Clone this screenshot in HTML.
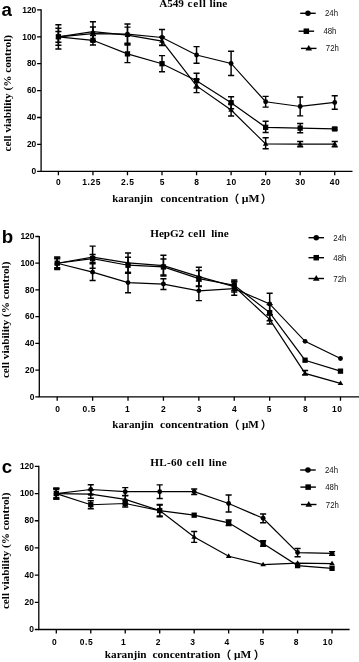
<!DOCTYPE html>
<html><head><meta charset="utf-8"><title>Cell viability</title>
<style>
html,body{margin:0;padding:0;background:#fff}
svg{display:block;will-change:transform}
.tk{font:bold 9.2px "Liberation Sans",Arial,sans-serif;fill:#000}
.tt{font:bold 11.2px "Liberation Serif","Times New Roman",serif;fill:#000}
.xt{font:bold 10.6px "Liberation Serif","Times New Roman",serif;fill:#000}
.pr{font:bold 11px "Liberation Sans","Noto Sans CJK SC",sans-serif;fill:#000}
.yt{font:bold 10.0px "Liberation Serif","Times New Roman",serif;fill:#000}
.lg{font:9px "Liberation Sans",Arial,sans-serif;fill:#111}
.pl{font:bold 18.7px "Liberation Sans",Arial,sans-serif;fill:#000}
.ax{stroke:#000;stroke-width:1.3;fill:none}
.ln{stroke:#000;stroke-width:1.2;fill:none}
.eb{stroke:#000;stroke-width:1.45;fill:none}
.ll{stroke:#000;stroke-width:1.4;fill:none}
.mk{fill:#000}
</style></head><body>
<svg width="359" height="662" viewBox="0 0 359 662">
<rect width="359" height="662" fill="#fff"/>
<g><path class="ax" d="M41.1 9.3V171.3H352.5"/>
<path class="ax" d="M37.1 171.3H41.1M37.1 144.4H41.1M37.1 117.5H41.1M37.1 90.6H41.1M37.1 63.7H41.1M37.1 36.8H41.1M37.1 9.9H41.1M58.4 171.3V175.3M92.94 171.3V175.3M127.48 171.3V175.3M162.02 171.3V175.3M196.56 171.3V175.3M231.1 171.3V175.3M265.64 171.3V175.3M300.18 171.3V175.3M334.72 171.3V175.3"/>
<text class="tk" transform="translate(36.3 174) scale(.92 1)" text-anchor="end">0</text>
<text class="tk" transform="translate(36.3 147.1) scale(.92 1)" text-anchor="end">20</text>
<text class="tk" transform="translate(36.3 120.2) scale(.92 1)" text-anchor="end">40</text>
<text class="tk" transform="translate(36.3 93.3) scale(.92 1)" text-anchor="end">60</text>
<text class="tk" transform="translate(36.3 66.4) scale(.92 1)" text-anchor="end">80</text>
<text class="tk" transform="translate(36.3 39.5) scale(.92 1)" text-anchor="end">100</text>
<text class="tk" transform="translate(36.3 12.6) scale(.92 1)" text-anchor="end">120</text>
<text class="tk" transform="translate(58.4 185.3) scale(.92 1)" text-anchor="middle">0</text>
<text class="tk" style="letter-spacing:.6px" transform="translate(91.64 185.3) scale(.92 1)" text-anchor="middle">1.25</text>
<text class="tk" style="letter-spacing:.6px" transform="translate(127.78 185.3) scale(.92 1)" text-anchor="middle">2.5</text>
<text class="tk" transform="translate(162.02 185.3) scale(.92 1)" text-anchor="middle">5</text>
<text class="tk" transform="translate(196.56 185.3) scale(.92 1)" text-anchor="middle">8</text>
<text class="tk" style="letter-spacing:.6px" transform="translate(231.4 185.3) scale(.92 1)" text-anchor="middle">10</text>
<text class="tk" style="letter-spacing:.6px" transform="translate(265.94 185.3) scale(.92 1)" text-anchor="middle">20</text>
<text class="tk" style="letter-spacing:.6px" transform="translate(300.48 185.3) scale(.92 1)" text-anchor="middle">30</text>
<text class="tk" style="letter-spacing:.6px" transform="translate(335.02 185.3) scale(.92 1)" text-anchor="middle">40</text>
<text class="tt" x="159.18" y="7.3" textLength="24.65" lengthAdjust="spacing">A549</text>
<text class="tt" x="187.58" y="7.3" textLength="18.35" lengthAdjust="spacing">cell</text>
<text class="tt" x="209.58" y="7.3" textLength="17.65" lengthAdjust="spacing">line</text>
<text class="xt" x="112.29" y="202.4" textLength="40.52" lengthAdjust="spacingAndGlyphs">karanjin</text>
<text class="xt" x="160.49" y="202.4" textLength="67.82" lengthAdjust="spacingAndGlyphs">concentration</text>
<text class="xt" x="241.89" y="202.4" textLength="17.72" lengthAdjust="spacingAndGlyphs">μM</text>
<text class="pr" x="228.34" y="203.4">（</text>
<text class="pr" x="260.75" y="203.4">）</text>
<text class="yt" transform="translate(10.9 151.5) rotate(-90)" textLength="116.5" lengthAdjust="spacingAndGlyphs">cell viability (% control)</text>
<text class="pl" x="1.6" y="16.1">a</text>
<polyline class="ln" points="58.4,36.8 92.94,33.71 127.48,34.11 162.02,37.47 196.56,54.96 231.1,63.43 265.64,101.76 300.18,106.47 334.72,102.44"/>
<path class="eb" d="M58.4 31.42V42.18M55.35 31.42h6.1M55.35 42.18h6.1M92.94 26.98V40.43M89.89 26.98h6.1M89.89 40.43h6.1M127.48 24.02V44.2M124.43 24.02h6.1M124.43 44.2h6.1M162.02 29.4V45.54M158.97 29.4h6.1M158.97 45.54h6.1M196.56 46.62V63.3M193.51 46.62h6.1M193.51 63.3h6.1M231.1 51.33V75.54M228.05 51.33h6.1M228.05 75.54h6.1M265.64 96.38V107.14M262.59 96.38h6.1M262.59 107.14h6.1M300.18 97.06V115.89M297.13 97.06h6.1M297.13 115.89h6.1M334.72 95.71V109.16M331.67 95.71h6.1M331.67 109.16h6.1"/>
<g class="mk"><circle cx="58.4" cy="36.8" r="2.45"/><circle cx="92.94" cy="33.71" r="2.45"/><circle cx="127.48" cy="34.11" r="2.45"/><circle cx="162.02" cy="37.47" r="2.45"/><circle cx="196.56" cy="54.96" r="2.45"/><circle cx="231.1" cy="63.43" r="2.45"/><circle cx="265.64" cy="101.76" r="2.45"/><circle cx="300.18" cy="106.47" r="2.45"/><circle cx="334.72" cy="102.44" r="2.45"/></g>
<polyline class="ln" points="58.4,36.8 92.94,40.3 127.48,53.88 162.02,63.7 196.56,80.65 231.1,102.71 265.64,127.32 300.18,128.13 334.72,128.93"/>
<path class="eb" d="M58.4 28.33V45.27M55.35 28.33h6.1M55.35 45.27h6.1M92.94 35.59V45M89.89 35.59h6.1M89.89 45h6.1M127.48 45.14V62.62M124.43 45.14h6.1M124.43 62.62h6.1M162.02 55.63V71.77M158.97 55.63h6.1M158.97 71.77h6.1M196.56 73.25V88.04M193.51 73.25h6.1M193.51 88.04h6.1M231.1 96.65V108.76M228.05 96.65h6.1M228.05 108.76h6.1M265.64 121.27V132.43M262.59 121.27h6.1M262.59 132.43h6.1M300.18 123.42V132.83M297.13 123.42h6.1M297.13 132.83h6.1M334.72 127.86V130.01M331.67 127.86h6.1M331.67 130.01h6.1"/>
<g class="mk"><rect x="55.75" y="34.15" width="5.3" height="5.3"/><rect x="90.29" y="37.65" width="5.3" height="5.3"/><rect x="124.83" y="51.23" width="5.3" height="5.3"/><rect x="159.37" y="61.05" width="5.3" height="5.3"/><rect x="193.91" y="78" width="5.3" height="5.3"/><rect x="228.45" y="100.06" width="5.3" height="5.3"/><rect x="262.99" y="124.67" width="5.3" height="5.3"/><rect x="297.53" y="125.48" width="5.3" height="5.3"/><rect x="332.07" y="126.28" width="5.3" height="5.3"/></g>
<polyline class="ln" points="58.4,36.8 92.94,31.55 127.48,35.19 162.02,41.1 196.56,85.89 231.1,109.97 265.64,144 300.18,144.13 334.72,144.13"/>
<path class="eb" d="M58.4 24.7V48.91M55.35 24.7h6.1M55.35 48.91h6.1M92.94 21.74V41.37M89.89 21.74h6.1M89.89 41.37h6.1M127.48 27.12V43.26M124.43 27.12h6.1M124.43 43.26h6.1M162.02 37.07V45.14M158.97 37.07h6.1M158.97 45.14h6.1M196.56 79.17V92.62M193.51 79.17h6.1M193.51 92.62h6.1M231.1 103.92V116.02M228.05 103.92h6.1M228.05 116.02h6.1M265.64 137.81V148.7M262.59 137.81h6.1M262.59 148.7h6.1M300.18 141.44V146.82M297.13 141.44h6.1M297.13 146.82h6.1M334.72 141.44V146.82M331.67 141.44h6.1M331.67 146.82h6.1"/>
<g class="mk"><path d="M58.4 33.9L61.2 38.5L55.6 38.5Z"/><path d="M92.94 28.65L95.74 33.25L90.14 33.25Z"/><path d="M127.48 32.29L130.28 36.89L124.68 36.89Z"/><path d="M162.02 38.2L164.82 42.8L159.22 42.8Z"/><path d="M196.56 82.99L199.36 87.59L193.76 87.59Z"/><path d="M231.1 107.07L233.9 111.67L228.3 111.67Z"/><path d="M265.64 141.1L268.44 145.7L262.84 145.7Z"/><path d="M300.18 141.23L302.98 145.83L297.38 145.83Z"/><path d="M334.72 141.23L337.52 145.83L331.92 145.83Z"/></g>
<path class="ll" d="M300.2 13.3h15.5"/>
<g class="mk"><circle cx="307.95" cy="13.3" r="2.75"/></g>
<text class="lg" transform="translate(325 16.3) scale(.87 1)">24h</text>
<path class="ll" d="M298.6 31.2h15.5"/>
<g class="mk"><rect x="303.6" y="28.45" width="5.5" height="5.5"/></g>
<text class="lg" transform="translate(323.4 34.2) scale(.87 1)">48h</text>
<path class="ll" d="M301 48.4h15.5"/>
<g class="mk"><path d="M308.75 45L312.05 50.6L305.45 50.6Z"/></g>
<text class="lg" transform="translate(325.8 51.4) scale(.87 1)">72h</text></g>
<g><path class="ax" d="M39.3 235.9V396.8H359"/>
<path class="ax" d="M35.3 396.8H39.3M35.3 370.08H39.3M35.3 343.37H39.3M35.3 316.65H39.3M35.3 289.93H39.3M35.3 263.22H39.3M35.3 236.5H39.3M57.2 396.8V400.8M92.61 396.8V400.8M128.02 396.8V400.8M163.43 396.8V400.8M198.84 396.8V400.8M234.25 396.8V400.8M269.66 396.8V400.8M305.07 396.8V400.8M340.48 396.8V400.8"/>
<text class="tk" transform="translate(34.5 399.5) scale(.92 1)" text-anchor="end">0</text>
<text class="tk" transform="translate(34.5 372.78) scale(.92 1)" text-anchor="end">20</text>
<text class="tk" transform="translate(34.5 346.07) scale(.92 1)" text-anchor="end">40</text>
<text class="tk" transform="translate(34.5 319.35) scale(.92 1)" text-anchor="end">60</text>
<text class="tk" transform="translate(34.5 292.63) scale(.92 1)" text-anchor="end">80</text>
<text class="tk" transform="translate(34.5 265.92) scale(.92 1)" text-anchor="end">100</text>
<text class="tk" transform="translate(34.5 239.2) scale(.92 1)" text-anchor="end">120</text>
<text class="tk" transform="translate(57.5 411.6) scale(.92 1)" text-anchor="middle">0</text>
<text class="tk" style="letter-spacing:.6px" transform="translate(89.31 411.6) scale(.92 1)" text-anchor="middle">0.5</text>
<text class="tk" transform="translate(127.42 411.6) scale(.92 1)" text-anchor="middle">1</text>
<text class="tk" transform="translate(163.43 411.6) scale(.92 1)" text-anchor="middle">2</text>
<text class="tk" transform="translate(199.04 411.6) scale(.92 1)" text-anchor="middle">3</text>
<text class="tk" transform="translate(234.25 411.6) scale(.92 1)" text-anchor="middle">4</text>
<text class="tk" transform="translate(269.06 411.6) scale(.92 1)" text-anchor="middle">5</text>
<text class="tk" transform="translate(305.47 411.6) scale(.92 1)" text-anchor="middle">8</text>
<text class="tk" style="letter-spacing:.6px" transform="translate(337.18 411.6) scale(.92 1)" text-anchor="middle">10</text>
<text class="tt" x="150.28" y="236.8" textLength="33.85" lengthAdjust="spacing">HepG2</text>
<text class="tt" x="187.88" y="236.8" textLength="17.55" lengthAdjust="spacing">cell</text>
<text class="tt" x="211.18" y="236.8" textLength="17.55" lengthAdjust="spacing">line</text>
<text class="xt" x="112.29" y="428.4" textLength="41.32" lengthAdjust="spacingAndGlyphs">karanjin</text>
<text class="xt" x="159.99" y="428.4" textLength="68.52" lengthAdjust="spacingAndGlyphs">concentration</text>
<text class="xt" x="241.99" y="428.4" textLength="16.92" lengthAdjust="spacingAndGlyphs">μM</text>
<text class="pr" x="228.54" y="429.4">（</text>
<text class="pr" x="260.75" y="429.4">）</text>
<text class="yt" transform="translate(8.9 378.1) rotate(-90)" textLength="116.5" lengthAdjust="spacingAndGlyphs">cell viability (% control)</text>
<text class="pl" x="1.7" y="242.7">b</text>
<polyline class="ln" points="57.2,263.22 92.61,272.17 128.02,282.59 163.43,284.06 198.84,290.87 234.25,288.6 269.66,303.96 305.07,341.36 340.48,358.46"/>
<path class="eb" d="M57.2 258.81V267.62M54.15 258.81h6.1M54.15 267.62h6.1M92.61 263.75V280.58M89.56 263.75h6.1M89.56 280.58h6.1M128.02 272.43V292.74M124.97 272.43h6.1M124.97 292.74h6.1M163.43 278.71V289.4M160.38 278.71h6.1M160.38 289.4h6.1M198.84 281.12V300.62M195.79 281.12h6.1M195.79 300.62h6.1M234.25 281.92V295.28M231.2 281.92h6.1M231.2 295.28h6.1M269.66 293.27V314.65M266.61 293.27h6.1M266.61 314.65h6.1"/>
<g class="mk"><circle cx="57.2" cy="263.22" r="2.45"/><circle cx="92.61" cy="272.17" r="2.45"/><circle cx="128.02" cy="282.59" r="2.45"/><circle cx="163.43" cy="284.06" r="2.45"/><circle cx="198.84" cy="290.87" r="2.45"/><circle cx="234.25" cy="288.6" r="2.45"/><circle cx="269.66" cy="303.96" r="2.45"/><circle cx="305.07" cy="341.36" r="2.45"/><circle cx="340.48" cy="358.46" r="2.45"/></g>
<polyline class="ln" points="57.2,263.22 92.61,258.54 128.02,265.22 163.43,266.96 198.84,278.58 234.25,285.26 269.66,312.64 305.07,360.2 340.48,371.15"/>
<path class="eb" d="M57.2 256.94V269.5M54.15 256.94h6.1M54.15 269.5h6.1M92.61 254.53V262.55M89.56 254.53h6.1M89.56 262.55h6.1M128.02 257.21V273.24M124.97 257.21h6.1M124.97 273.24h6.1M163.43 258.94V274.97M160.38 258.94h6.1M160.38 274.97h6.1M198.84 270.56V286.59M195.79 270.56h6.1M195.79 286.59h6.1M234.25 279.91V290.6M231.2 279.91h6.1M231.2 290.6h6.1M269.66 304.63V320.66M266.61 304.63h6.1M266.61 320.66h6.1"/>
<g class="mk"><rect x="54.55" y="260.57" width="5.3" height="5.3"/><rect x="89.96" y="255.89" width="5.3" height="5.3"/><rect x="125.37" y="262.57" width="5.3" height="5.3"/><rect x="160.78" y="264.31" width="5.3" height="5.3"/><rect x="196.19" y="275.93" width="5.3" height="5.3"/><rect x="231.6" y="282.61" width="5.3" height="5.3"/><rect x="267.01" y="309.99" width="5.3" height="5.3"/><rect x="302.42" y="357.55" width="5.3" height="5.3"/><rect x="337.83" y="368.5" width="5.3" height="5.3"/></g>
<polyline class="ln" points="57.2,263.22 92.61,257.21 128.02,262.82 163.43,265.62 198.84,276.57 234.25,286.59 269.66,319.32 305.07,373.42 340.48,383.31"/>
<path class="eb" d="M57.2 257.87V268.56M54.15 257.87h6.1M54.15 268.56h6.1M92.61 246.12V268.29M89.56 246.12h6.1M89.56 268.29h6.1M128.02 253.06V272.57M124.97 253.06h6.1M124.97 272.57h6.1M163.43 255.34V275.91M160.38 255.34h6.1M160.38 275.91h6.1M198.84 267.22V285.93M195.79 267.22h6.1M195.79 285.93h6.1M234.25 281.25V291.94M231.2 281.25h6.1M231.2 291.94h6.1M269.66 314.65V324M266.61 314.65h6.1M266.61 324h6.1M305.07 370.48V375.03M302.02 370.48h6.1M302.02 375.03h6.1"/>
<g class="mk"><path d="M57.2 260.32L60 264.92L54.4 264.92Z"/><path d="M92.61 254.31L95.41 258.91L89.81 258.91Z"/><path d="M128.02 259.92L130.82 264.52L125.22 264.52Z"/><path d="M163.43 262.72L166.23 267.32L160.63 267.32Z"/><path d="M198.84 273.67L201.64 278.27L196.04 278.27Z"/><path d="M234.25 283.69L237.05 288.29L231.45 288.29Z"/><path d="M269.66 316.42L272.46 321.02L266.86 321.02Z"/><path d="M305.07 370.52L307.87 375.12L302.27 375.12Z"/><path d="M340.48 380.41L343.28 385.01L337.68 385.01Z"/></g>
<path class="ll" d="M308.5 237.7h15.5"/>
<g class="mk"><circle cx="316.25" cy="237.7" r="2.75"/></g>
<text class="lg" transform="translate(333.3 240.7) scale(.87 1)">24h</text>
<path class="ll" d="M308.5 257.7h15.5"/>
<g class="mk"><rect x="313.5" y="254.95" width="5.5" height="5.5"/></g>
<text class="lg" transform="translate(333.3 260.7) scale(.87 1)">48h</text>
<path class="ll" d="M308.5 278.5h15.5"/>
<g class="mk"><path d="M316.25 275.1L319.55 280.7L312.95 280.7Z"/></g>
<text class="lg" transform="translate(333.3 281.5) scale(.87 1)">72h</text></g>
<g><path class="ax" d="M38.8 465.8V629.5H349.6"/>
<path class="ax" d="M34.8 629.5H38.8M34.8 602.32H38.8M34.8 575.13H38.8M34.8 547.95H38.8M34.8 520.77H38.8M34.8 493.58H38.8M34.8 466.4H38.8M56.3 629.5V633.5M90.77 629.5V633.5M125.24 629.5V633.5M159.71 629.5V633.5M194.18 629.5V633.5M228.65 629.5V633.5M263.12 629.5V633.5M297.59 629.5V633.5M332.06 629.5V633.5"/>
<text class="tk" transform="translate(34 632.2) scale(.92 1)" text-anchor="end">0</text>
<text class="tk" transform="translate(34 605.02) scale(.92 1)" text-anchor="end">20</text>
<text class="tk" transform="translate(34 577.83) scale(.92 1)" text-anchor="end">40</text>
<text class="tk" transform="translate(34 550.65) scale(.92 1)" text-anchor="end">60</text>
<text class="tk" transform="translate(34 523.47) scale(.92 1)" text-anchor="end">80</text>
<text class="tk" transform="translate(34 496.28) scale(.92 1)" text-anchor="end">100</text>
<text class="tk" transform="translate(34 469.1) scale(.92 1)" text-anchor="end">120</text>
<text class="tk" transform="translate(54.3 645.3) scale(.92 1)" text-anchor="middle">0</text>
<text class="tk" style="letter-spacing:.6px" transform="translate(86.47 645.3) scale(.92 1)" text-anchor="middle">0.5</text>
<text class="tk" transform="translate(123.24 645.3) scale(.92 1)" text-anchor="middle">1</text>
<text class="tk" transform="translate(158.11 645.3) scale(.92 1)" text-anchor="middle">2</text>
<text class="tk" transform="translate(192.58 645.3) scale(.92 1)" text-anchor="middle">3</text>
<text class="tk" transform="translate(226.85 645.3) scale(.92 1)" text-anchor="middle">4</text>
<text class="tk" transform="translate(261.82 645.3) scale(.92 1)" text-anchor="middle">5</text>
<text class="tk" transform="translate(295.99 645.3) scale(.92 1)" text-anchor="middle">8</text>
<text class="tk" style="letter-spacing:.6px" transform="translate(327.96 645.3) scale(.92 1)" text-anchor="middle">10</text>
<text class="tt" x="150.28" y="465.6" textLength="32.05" lengthAdjust="spacing">HL-60</text>
<text class="tt" x="186.18" y="465.6" textLength="17.95" lengthAdjust="spacing">cell</text>
<text class="tt" x="208.68" y="465.6" textLength="18.05" lengthAdjust="spacing">line</text>
<text class="xt" x="104.79" y="657.6" textLength="41.82" lengthAdjust="spacingAndGlyphs">karanjin</text>
<text class="xt" x="152.49" y="657.6" textLength="67.82" lengthAdjust="spacingAndGlyphs">concentration</text>
<text class="xt" x="234.09" y="657.6" textLength="17.22" lengthAdjust="spacingAndGlyphs">μM</text>
<text class="pr" x="220.14" y="658.6">（</text>
<text class="pr" x="253.65" y="658.6">）</text>
<text class="yt" transform="translate(8.8 609.1) rotate(-90)" textLength="116.5" lengthAdjust="spacingAndGlyphs">cell viability (% control)</text>
<text class="pl" x="1.7" y="472.7">c</text>
<polyline class="ln" points="56.3,493.58 90.77,489.51 125.24,491.68 159.71,491.68 194.18,491.68 228.65,503.51 263.12,518.32 297.59,552.57 332.06,553.39"/>
<path class="eb" d="M56.3 488.15V499.02M53.25 488.15h6.1M53.25 499.02h6.1M90.77 484.75V494.26M87.72 484.75h6.1M87.72 494.26h6.1M125.24 487.6V495.76M122.19 487.6h6.1M122.19 495.76h6.1M159.71 484.88V498.48M156.66 484.88h6.1M156.66 498.48h6.1M194.18 488.96V494.4M191.13 488.96h6.1M191.13 494.4h6.1M228.65 495.08V511.93M225.6 495.08h6.1M225.6 511.93h6.1M263.12 513.97V522.67M260.07 513.97h6.1M260.07 522.67h6.1M297.59 548.49V556.65M294.54 548.49h6.1M294.54 556.65h6.1M332.06 551.62V555.15M329.01 551.62h6.1M329.01 555.15h6.1"/>
<g class="mk"><circle cx="56.3" cy="493.58" r="2.45"/><circle cx="90.77" cy="489.51" r="2.45"/><circle cx="125.24" cy="491.68" r="2.45"/><circle cx="159.71" cy="491.68" r="2.45"/><circle cx="194.18" cy="491.68" r="2.45"/><circle cx="228.65" cy="503.51" r="2.45"/><circle cx="263.12" cy="518.32" r="2.45"/><circle cx="297.59" cy="552.57" r="2.45"/><circle cx="332.06" cy="553.39" r="2.45"/></g>
<polyline class="ln" points="56.3,493.58 90.77,504.73 125.24,503.51 159.71,510.57 194.18,515.19 228.65,522.81 263.12,543.46 297.59,565.62 332.06,568.34"/>
<path class="eb" d="M56.3 488.15V499.02M53.25 488.15h6.1M53.25 499.02h6.1M90.77 500.65V508.81M87.72 500.65h6.1M87.72 508.81h6.1M125.24 500.11V506.9M122.19 500.11h6.1M122.19 506.9h6.1M159.71 504.46V516.69M156.66 504.46h6.1M156.66 516.69h6.1M228.65 520.09V525.52M225.6 520.09h6.1M225.6 525.52h6.1M263.12 540.75V546.18M260.07 540.75h6.1M260.07 546.18h6.1"/>
<g class="mk"><rect x="53.65" y="490.93" width="5.3" height="5.3"/><rect x="88.12" y="502.08" width="5.3" height="5.3"/><rect x="122.59" y="500.86" width="5.3" height="5.3"/><rect x="157.06" y="507.92" width="5.3" height="5.3"/><rect x="191.53" y="512.54" width="5.3" height="5.3"/><rect x="226" y="520.16" width="5.3" height="5.3"/><rect x="260.47" y="540.81" width="5.3" height="5.3"/><rect x="294.94" y="562.97" width="5.3" height="5.3"/><rect x="329.41" y="565.69" width="5.3" height="5.3"/></g>
<polyline class="ln" points="56.3,493.58 90.77,494.13 125.24,499.43 159.71,510.57 194.18,536.94 228.65,556.24 263.12,564.53 297.59,563.17 332.06,563.58"/>
<path class="eb" d="M56.3 489.51V497.66M53.25 489.51h6.1M53.25 497.66h6.1M90.77 490.05V498.2M87.72 490.05h6.1M87.72 498.2h6.1M125.24 495.35V503.51M122.19 495.35h6.1M122.19 503.51h6.1M159.71 505.14V516.01M156.66 505.14h6.1M156.66 516.01h6.1M194.18 531.5V542.38M191.13 531.5h6.1M191.13 542.38h6.1"/>
<g class="mk"><path d="M56.3 490.68L59.1 495.28L53.5 495.28Z"/><path d="M90.77 491.23L93.57 495.83L87.97 495.83Z"/><path d="M125.24 496.53L128.04 501.13L122.44 501.13Z"/><path d="M159.71 507.67L162.51 512.27L156.91 512.27Z"/><path d="M194.18 534.04L196.98 538.64L191.38 538.64Z"/><path d="M228.65 553.34L231.45 557.94L225.85 557.94Z"/><path d="M263.12 561.63L265.92 566.23L260.32 566.23Z"/><path d="M297.59 560.27L300.39 564.87L294.79 564.87Z"/><path d="M332.06 560.68L334.86 565.28L329.26 565.28Z"/></g>
<path class="ll" d="M300.2 470h15.5"/>
<g class="mk"><circle cx="307.95" cy="470" r="2.75"/></g>
<text class="lg" transform="translate(325 473) scale(.87 1)">24h</text>
<path class="ll" d="M300.4 487.1h15.5"/>
<g class="mk"><rect x="305.4" y="484.35" width="5.5" height="5.5"/></g>
<text class="lg" transform="translate(325.2 490.1) scale(.87 1)">48h</text>
<path class="ll" d="M301 504.5h15.5"/>
<g class="mk"><path d="M308.75 501.1L312.05 506.7L305.45 506.7Z"/></g>
<text class="lg" transform="translate(325.8 507.5) scale(.87 1)">72h</text></g>
</svg></body></html>
